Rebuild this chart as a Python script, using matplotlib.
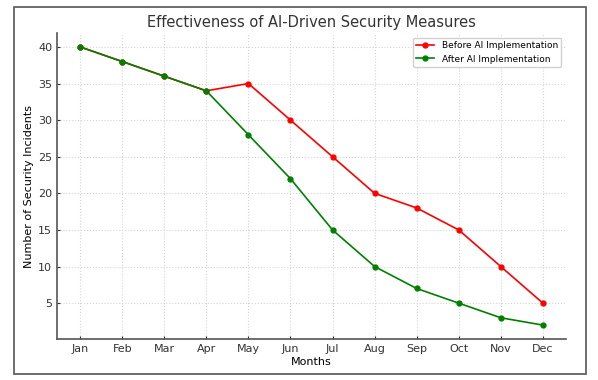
import matplotlib
matplotlib.use("Agg")
import matplotlib.pyplot as plt
from matplotlib.patches import Rectangle

months = ["Jan", "Feb", "Mar", "Apr", "May", "Jun", "Jul", "Aug", "Sep", "Oct", "Nov", "Dec"]
before_ai = [40, 38, 36, 34, 35, 30, 25, 20, 18, 15, 10, 5]
after_ai = [40, 38, 36, 34, 28, 22, 15, 10, 7, 5, 3, 2]

fig = plt.figure(figsize=(5.98, 3.8), dpi=100)
ax = fig.add_axes([57 / 598, 1 - 339 / 380, (566 - 57) / 598, (339 - 33) / 380])

ax.plot(months, before_ai, marker="o", color="red", lw=1.2, ms=3.5,
        label="Before AI Implementation")
ax.plot(months, after_ai, marker="o", color="green", lw=1.2, ms=3.5,
        label="After AI Implementation")

ax.set_title("Effectiveness of AI-Driven Security Measures", fontsize=10.5,
             color="#333333", pad=4)
ax.set_xlabel("Months", fontsize=8, labelpad=2)
ax.set_ylabel("Number of Security Incidents", fontsize=8, labelpad=3)
ax.set_yticks([5, 10, 15, 20, 25, 30, 35, 40])
ax.tick_params(labelsize=8, direction="in", length=2, colors="#333333")
ax.grid(True, linestyle=":", color="#d5d5d5", lw=0.8)
for side in ("top", "right"):
    ax.spines[side].set_visible(False)
for side in ("left", "bottom"):
    ax.spines[side].set_color("#555555")
    ax.spines[side].set_linewidth(1.2)
ax.legend(loc="upper right", fontsize=6.5, framealpha=0.9)

# outer frame
fig.patches.append(Rectangle((14 / 598, 1 - 374 / 380), (586 - 14) / 598,
                             (374 - 7) / 380, transform=fig.transFigure,
                             fill=False, ec="#555555", lw=1.2))

fig.savefig("out.png", dpi=100, facecolor="white")
